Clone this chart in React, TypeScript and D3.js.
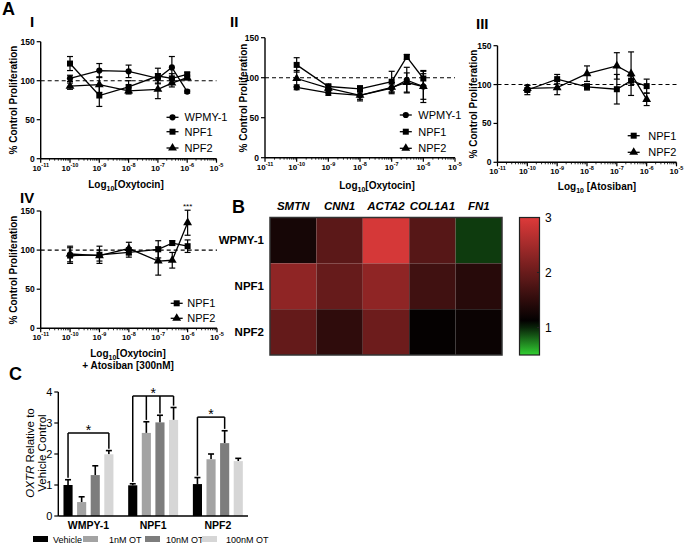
import React from "react";
import * as d3 from "d3";

const FONT = "'Liberation Sans', Arial, Helvetica, sans-serif";

// ---------- Panel A data ----------
const concentrations = [1e-10, 1e-9, 1e-8, 1e-7, 3e-7, 1e-6];
const xTickExponents = [-11, -10, -9, -8, -7, -6, -5];
const yTicksProlif = [0, 50, 100, 150];

// Panel I (Oxytocin)
const p1Wpmy = [103, 113, 112, 103, 117, 86];
const p1WpmyErr = [4, 9, 8, 6, 14, 2];
const p1Npf1 = [122, 81, 92, 106, 103, 108];
const p1Npf1Err = [9, 14, 8, 10, 6, 3];
const p1Npf2 = [93, 95, 87, 89, 97, 104];
const p1Npf2Err = [4, 10, 4, 12, 5, 3];

// Panel II (Oxytocin)
const p2Wpmy = [88, 81, 78, 87, 97, 89];
const p2WpmyErr = [3, 3, 5, 7, 16, 20];
const p2Npf1 = [116, 89, 86, 95, 126, 99];
const p2Npf1Err = [9, 3, 4, 13, 3, 9];
const p2Npf2 = [99, 87, 78, 88, 94, 89];
const p2Npf2Err = [10, 3, 7, 6, 12, 16];

// Panel III (Atosiban)
const p3Npf1 = [93, 107, 97, 94, 105, 98];
const p3Npf1Err = [6, 6, 4, 19, 6, 9];
const p3Npf2 = [95, 96, 114, 124, 114, 81];
const p3Npf2Err = [4, 9, 10, 17, 28, 8];

// Panel IV (Oxytocin + Atosiban)
const p4Npf1 = [93, 94, 97, 101, 109, 105];
const p4Npf1Err = [10, 11, 6, 11, 3, 8];
const p4Npf2 = [95, 93, 102, 86, 87, 135];
const p4Npf2Err = [10, 7, 8, 18, 10, 16];

// ---------- Panel B data ----------
const genes = ["SMTN", "CNN1", "ACTA2", "COL1A1", "FN1"];
const cellLines = ["WPMY-1", "NPF1", "NPF2"];
const hmWpmy = [1.29, 1.88, 2.92, 1.84, 0.93];
const hmNpf1 = [2.32, 1.97, 2.32, 1.65, 1.43];
const hmNpf2 = [1.96, 1.5, 2.03, 1.14, 1.19];
const colorbarTicks = [1, 2, 3];

// ---------- Panel C data ----------
const groupsC = ["WMPY-1", "NPF1", "NPF2"];
const treatments = ["Vehicle", "1nM OT", "10nM OT", "100nM OT"];
const cVehicle = [1.0, 0.99, 1.03];
const cVehicleErr = [0.17, 0.05, 0.21];
const c1nM = [0.45, 2.68, 1.83];
const c1nMErr = [0.17, 0.36, 0.17];
const c10nM = [1.32, 3.02, 2.35];
const c10nMErr = [0.3, 0.23, 0.4];
const c100nM = [1.99, 3.1, 1.77];
const c100nMErr = [0.12, 0.4, 0.09];
const cTreatColors = ["#000000", "#a3a3a3", "#7d7d7d", "#d6d6d6"];
const cYTicks = [0, 1, 2, 3, 4];
const sigLevels = [2.68, 3.87, 3.19];
const sigTargets = [[0, 3], [0, 1, 2, 3], [0, 2]];

type Series = { name: string; shape: string; values: number[]; errors: number[] };

function symbolPath(shape: string): string {
  const type =
    shape === "circle" ? d3.symbolCircle : shape === "square" ? d3.symbolSquare : d3.symbolTriangle;
  const size = shape === "circle" ? 30 : shape === "square" ? 36 : 34;
  return d3.symbol().type(type).size(size)() as string;
}

type LegendCfg = { mx: number; tx: number; ys: number[] };

function LinePanel(props: {
  xl: number;
  xr: number;
  yt: number;
  yb: number;
  series: Series[];
  legend: LegendCfg;
  stars?: { idx: number; y: number };
}) {
  const { xl, xr, yt, yb, series, legend } = props;
  const x = d3.scaleLog().domain([1e-11, 1e-5]).range([xl, xr]);
  const y = d3.scaleLinear().domain([0, 150]).range([yb, yt]);
  const line = d3
    .line<number>()
    .x((_, i) => x(concentrations[i]))
    .y((d) => y(d));
  const minor: number[] = [];
  for (let e = -11; e < -5; e++) for (let k = 2; k < 10; k++) minor.push(k * Math.pow(10, e));
  return (
    <g>
      <line x1={xl} x2={xr} y1={y(100)} y2={y(100)} stroke="#000" strokeWidth={1.1} strokeDasharray="4,3" />
      <line x1={xl} x2={xl} y1={yb} y2={yt} stroke="#000" strokeWidth={1.4} />
      {yTicksProlif.map((t) => (
        <g key={"yt" + t}>
          <line x1={xl - 4} x2={xl} y1={y(t)} y2={y(t)} stroke="#000" strokeWidth={1.2} />
          <text x={xl - 6} y={y(t) + 3} textAnchor="end" fontSize={8.5} fontWeight="bold">
            {t}
          </text>
        </g>
      ))}
      <line x1={xl} x2={xr} y1={yb} y2={yb} stroke="#000" strokeWidth={1.4} />
      {minor.map((m, i) => (
        <line key={"mn" + i} x1={x(m)} x2={x(m)} y1={yb} y2={yb + 2} stroke="#000" strokeWidth={0.8} />
      ))}
      {xTickExponents.map((e) => (
        <g key={"xt" + e}>
          <line x1={x(Math.pow(10, e))} x2={x(Math.pow(10, e))} y1={yb} y2={yb + 4} stroke="#000" strokeWidth={1.2} />
          <text x={x(Math.pow(10, e))} y={yb + 12} textAnchor="middle" fontSize={8} fontWeight="bold">
            10
            <tspan dy={-4} fontSize={5.5}>
              {e}
            </tspan>
          </text>
        </g>
      ))}
      {series.map((s) => (
        <g key={s.name}>
          <path d={line(s.values) as string} fill="none" stroke="#000" strokeWidth={1.3} />
          {s.values.map((v, i) => {
            const cx = x(concentrations[i]);
            const top = y(v + s.errors[i]);
            const bot = y(v - s.errors[i]);
            return (
              <g key={i}>
                <line x1={cx} x2={cx} y1={top} y2={bot} stroke="#000" strokeWidth={1.2} />
                <line x1={cx - 3} x2={cx + 3} y1={top} y2={top} stroke="#000" strokeWidth={1.2} />
                <line x1={cx - 3} x2={cx + 3} y1={bot} y2={bot} stroke="#000" strokeWidth={1.2} />
                <path d={symbolPath(s.shape)} transform={`translate(${cx},${y(v)})`} fill="#000" />
              </g>
            );
          })}
        </g>
      ))}
      {props.stars && (
        <text x={x(concentrations[props.stars.idx])} y={props.stars.y} textAnchor="middle" fontSize={8}>
          ***
        </text>
      )}
      {series.map((s, i) => (
        <g key={"lg" + s.name}>
          <line x1={legend.mx - 6} x2={legend.mx + 6} y1={legend.ys[i]} y2={legend.ys[i]} stroke="#000" strokeWidth={1.3} />
          <path d={symbolPath(s.shape)} transform={`translate(${legend.mx},${legend.ys[i]})`} fill="#000" />
          <text x={legend.tx} y={legend.ys[i] + 4} fontSize={11}>
            {s.name}
          </text>
        </g>
      ))}
    </g>
  );
}

function YTitle(props: { cx: number; cy: number }) {
  return (
    <text
      transform={`translate(${props.cx + 3.5},${props.cy}) rotate(-90)`}
      textAnchor="middle"
      fontSize={10}
      fontWeight="bold"
    >
      % Control Proliferation
    </text>
  );
}

function XTitle(props: { cx: number; y: number; drug: string; space?: boolean }) {
  return (
    <text x={props.cx} y={props.y} textAnchor="middle" fontSize={10} fontWeight="bold">
      Log
      <tspan dy={3} fontSize={7}>
        10
      </tspan>
      <tspan dy={-3}>{(props.space ? " " : "") + "[" + props.drug + "]"}</tspan>
    </text>
  );
}

function Heatmap() {
  const hmRows = [hmWpmy, hmNpf1, hmNpf2];
  const x = d3.scaleBand<string>().domain(genes).range([270, 502]);
  const y = d3.scaleBand<string>().domain(cellLines).range([217.5, 355]);
  const color = d3
    .scaleLinear<string>()
    .domain([0.5, 1.1, 3])
    .range(["#33d133", "#000000", "#de3a3a"])
    .clamp(true);
  const cb = d3.scaleLinear().domain([0.5, 3]).range([355, 217.5]);
  const stops = d3.range(0, 1.0001, 0.05).map((t) => ({ t, v: 3 - t * 2.5 }));
  return (
    <g>
      <defs>
        <linearGradient id="cbgrad" x1="0" y1="0" x2="0" y2="1">
          {stops.map((s, i) => (
            <stop key={i} offset={s.t} stopColor={color(s.v)} />
          ))}
        </linearGradient>
      </defs>
      {hmRows.map((row, r) =>
        row.map((v, c) => (
          <rect
            key={r + "-" + c}
            x={x(genes[c])}
            y={y(cellLines[r])}
            width={x.bandwidth()}
            height={y.bandwidth()}
            fill={color(v)}
          />
        ))
      )}
      <rect x={270} y={217.5} width={232} height={137.5} fill="none" stroke="#333" strokeWidth={1.5} />
      {genes.map((g) => (
        <text
          key={g}
          x={(x(g) as number) + x.bandwidth() / 2}
          y={210}
          textAnchor="middle"
          fontSize={11.5}
          fontWeight="bold"
          fontStyle="italic"
        >
          {g}
        </text>
      ))}
      {cellLines.map((c) => (
        <text
          key={c}
          x={264}
          y={(y(c) as number) + y.bandwidth() / 2 + 4}
          textAnchor="end"
          fontSize={11.5}
          fontWeight="bold"
        >
          {c}
        </text>
      ))}
      <rect x={519.5} y={217.5} width={20} height={137.5} fill="url(#cbgrad)" stroke="#222" strokeWidth={1.2} />
      {colorbarTicks.map((t) => (
        <g key={"cb" + t}>
          <line x1={537} x2={539.5} y1={cb(t)} y2={cb(t)} stroke="#222" strokeWidth={1} />
          <text x={545} y={cb(t) + 4} fontSize={12}>
            {t}
          </text>
        </g>
      ))}
    </g>
  );
}

function BarChart() {
  const vals = [cVehicle, c1nM, c10nM, c100nM];
  const errs = [cVehicleErr, c1nMErr, c10nMErr, c100nMErr];
  const x0 = d3.scaleBand<string>().domain(groupsC).range([58.3, 248]).paddingInner(0.228).paddingOuter(0.08);
  const x1 = d3.scaleBand<string>().domain(treatments).range([0, x0.bandwidth()]).paddingInner(0.33);
  const y = d3.scaleLinear().domain([0, 4]).range([516, 392]);
  const xl = 58.3;
  return (
    <g>
      {groupsC.map((g, gi) => (
        <g key={g}>
          {treatments.map((t, ti) => {
            const bx = (x0(g) as number) + (x1(t) as number);
            const bw = x1.bandwidth();
            const v = vals[ti][gi];
            const e = errs[ti][gi];
            const cx = bx + bw / 2;
            return (
              <g key={t}>
                <line x1={cx} x2={cx} y1={y(v)} y2={y(v + e)} stroke="#000" strokeWidth={1.6} />
                <line x1={cx - 3} x2={cx + 3} y1={y(v + e)} y2={y(v + e)} stroke="#000" strokeWidth={1.6} />
                <rect x={bx} y={y(v)} width={bw} height={y(0) - y(v)} fill={cTreatColors[ti]} />
              </g>
            );
          })}
          {(() => {
            const tg = sigTargets[gi];
            const cxs = tg.map((ti) => (x0(g) as number) + (x1(treatments[ti]) as number) + x1.bandwidth() / 2);
            const ly = y(sigLevels[gi]);
            return (
              <g>
                <line x1={cxs[0]} x2={cxs[cxs.length - 1]} y1={ly} y2={ly} stroke="#000" strokeWidth={1.5} />
                {tg.map((ti, k) => (
                  <line
                    key={k}
                    x1={cxs[k]}
                    x2={cxs[k]}
                    y1={ly}
                    y2={y(vals[ti][gi] + errs[ti][gi] + 0.06)}
                    stroke="#000"
                    strokeWidth={1.5}
                  />
                ))}
                <text x={(cxs[0] + cxs[cxs.length - 1]) / 2} y={ly + 2} textAnchor="middle" fontSize={14}>
                  *
                </text>
              </g>
            );
          })()}
          <text
            x={(x0(g) as number) + x0.bandwidth() / 2}
            y={529}
            textAnchor="middle"
            fontSize={10.5}
            fontWeight="bold"
          >
            {g}
          </text>
        </g>
      ))}
      <line x1={xl} x2={xl} y1={516} y2={392} stroke="#000" strokeWidth={1.4} />
      <line x1={xl} x2={248} y1={516} y2={516} stroke="#000" strokeWidth={1.4} />
      {cYTicks.map((t) => (
        <g key={"c" + t}>
          <line x1={xl - 4} x2={xl} y1={y(t)} y2={y(t)} stroke="#000" strokeWidth={1.2} />
          <text x={xl - 6} y={y(t) + 4} textAnchor="end" fontSize={11}>
            {t}
          </text>
        </g>
      ))}
      <text transform="translate(33.5,453) rotate(-90)" textAnchor="middle" fontSize={11.5}>
        <tspan fontStyle="italic">OXTR</tspan> Relative to
      </text>
      <text transform="translate(45.5,453) rotate(-90)" textAnchor="middle" fontSize={11.5}>
        Vehicle Control
      </text>
      {treatments.map((t, i) => {
        const sx = [33, 83, 145, 202][i];
        const tx = [53, 109, 166, 226][i];
        return (
          <g key={"lg" + t}>
            <rect x={sx} y={536} width={15} height={6} fill={cTreatColors[i]} />
            <text x={tx} y={543} fontSize={9}>
              {t}
            </text>
          </g>
        );
      })}
    </g>
  );
}

export default function App() {
  const s1: Series[] = [
    { name: "WPMY-1", shape: "circle", values: p1Wpmy, errors: p1WpmyErr },
    { name: "NPF1", shape: "square", values: p1Npf1, errors: p1Npf1Err },
    { name: "NPF2", shape: "triangle", values: p1Npf2, errors: p1Npf2Err },
  ];
  const s2: Series[] = [
    { name: "WPMY-1", shape: "circle", values: p2Wpmy, errors: p2WpmyErr },
    { name: "NPF1", shape: "square", values: p2Npf1, errors: p2Npf1Err },
    { name: "NPF2", shape: "triangle", values: p2Npf2, errors: p2Npf2Err },
  ];
  const s3: Series[] = [
    { name: "NPF1", shape: "square", values: p3Npf1, errors: p3Npf1Err },
    { name: "NPF2", shape: "triangle", values: p3Npf2, errors: p3Npf2Err },
  ];
  const s4: Series[] = [
    { name: "NPF1", shape: "square", values: p4Npf1, errors: p4Npf1Err },
    { name: "NPF2", shape: "triangle", values: p4Npf2, errors: p4Npf2Err },
  ];
  return (
    <svg
      width={685}
      height={546}
      style={{ position: "absolute", left: 0, top: 0, background: "#fff" }}
      fontFamily={FONT}
    >
      <rect x={0} y={0} width={685} height={546} fill="#fff" />
      <text x={2} y={15} fontSize={18} fontWeight="bold">A</text>
      <text x={30} y={27} fontSize={15} fontWeight="bold">I</text>
      <text x={230} y={27} fontSize={15} fontWeight="bold">II</text>
      <text x={476} y={29} fontSize={15} fontWeight="bold">III</text>
      <text x={20} y={203} fontSize={15} fontWeight="bold">IV</text>
      <text x={232} y={213} fontSize={18} fontWeight="bold">B</text>
      <text x={9} y={380} fontSize={18} fontWeight="bold">C</text>

      <LinePanel xl={40.7} xr={216.5} yt={41.7} yb={158.7} series={s1} legend={{ mx: 172.5, tx: 184.5, ys: [117.3, 131.7, 148] }} />
      <YTitle cx={13.3} cy={100} />
      <XTitle cx={126} y={188} drug="Oxytocin" />

      <LinePanel xl={265} xr={455} yt={37.7} yb={157.7} series={s2} legend={{ mx: 405.8, tx: 418.3, ys: [115, 131.7, 148.3] }} />
      <YTitle cx={243} cy={98} />
      <XTitle cx={377} y={189} drug="Oxytocin" />

      <LinePanel xl={497.5} xr={676.5} yt={45.7} yb={162.3} series={s3} legend={{ mx: 633.7, tx: 648.3, ys: [135.7, 152.3] }} />
      <YTitle cx={473.7} cy={104} />
      <XTitle cx={597} y={190} drug="Atosiban" space />

      <LinePanel
        xl={40.7}
        xr={217}
        yt={211}
        yb={328.3}
        series={s4}
        legend={{ mx: 176.7, tx: 187.3, ys: [303.3, 318.3] }}
        stars={{ idx: 5, y: 209 }}
      />
      <YTitle cx={13.3} cy={270} />
      <XTitle cx={128} y={357} drug="Oxytocin" />
      <text x={128} y={369} textAnchor="middle" fontSize={10} fontWeight="bold">
        + Atosiban [300nM]
      </text>

      <Heatmap />
      <BarChart />
    </svg>
  );
}
